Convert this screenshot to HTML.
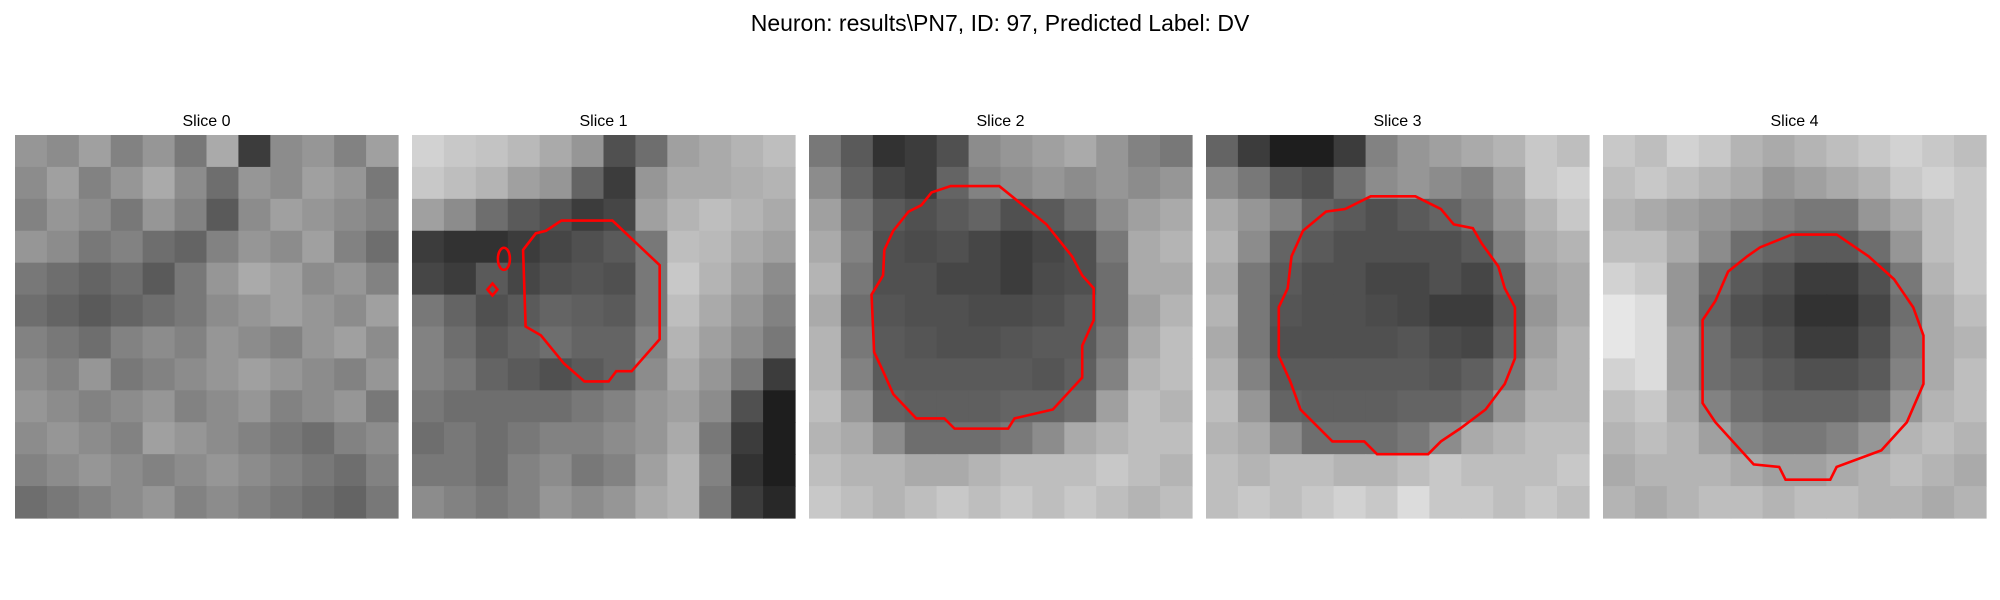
<!DOCTYPE html>
<html><head><meta charset="utf-8"><style>
html,body{margin:0;padding:0;background:#fff;}
svg{display:block;font-family:"Liberation Sans","DejaVu Sans",sans-serif;}
</style></head><body>
<svg id="fig" width="2000" height="600" viewBox="0 0 2000 600">
<text x="1000" y="31" text-anchor="middle" font-size="23" fill="#000">Neuron: results\PN7, ID: 97, Predicted Label: DV</text>
</svg>
<script>
const sliceLabels=["Slice 0","Slice 1","Slice 2","Slice 3","Slice 4"];
const grid0=[
[150,140,160,130,150,120,170,60,140,150,130,160],
[140,160,130,150,170,140,110,150,140,160,150,120],
[130,150,140,120,150,130,90,140,160,150,140,130],
[150,140,120,130,110,100,130,150,140,160,130,110],
[120,110,100,110,90,120,150,170,160,140,150,130],
[110,100,90,100,110,120,140,150,160,150,140,160],
[130,120,110,130,140,130,150,140,130,150,160,140],
[140,130,150,120,130,140,150,160,150,140,130,150],
[150,140,130,140,150,130,140,150,130,140,150,120],
[140,150,140,130,160,150,140,130,120,110,130,140],
[130,140,150,140,130,140,150,140,130,120,110,130],
[110,120,130,140,150,130,140,130,120,110,100,120]];
const grid1=[
[210,200,195,185,170,150,80,110,160,170,180,190],
[200,190,180,160,150,100,60,150,170,170,175,180],
[160,140,110,90,80,60,70,160,180,190,180,170],
[60,50,50,60,70,80,90,120,190,185,170,160],
[70,60,90,70,80,85,80,120,200,180,160,140],
[120,100,80,90,100,95,90,120,190,170,150,130],
[130,110,90,100,110,100,100,130,180,160,140,120],
[130,120,100,90,80,90,100,140,170,150,120,60],
[120,110,110,110,110,120,130,150,160,140,80,30],
[110,120,110,120,130,130,140,150,170,120,60,30],
[120,120,110,130,140,120,130,160,180,130,50,30],
[140,130,120,130,150,140,150,170,180,120,60,40]];
const grid2=[
[120,90,50,60,80,140,150,160,170,150,130,120],
[140,100,70,60,100,130,140,150,140,150,140,150],
[160,120,90,80,90,100,80,90,110,140,160,170],
[170,130,80,75,80,70,60,70,80,120,170,180],
[180,120,80,80,70,70,60,75,80,110,170,170],
[170,110,85,80,80,75,75,80,90,110,160,180],
[180,120,90,85,80,80,85,90,90,120,170,190],
[180,130,90,90,90,90,90,85,95,130,180,190],
[190,150,100,95,95,95,100,100,110,160,190,180],
[180,170,140,110,110,110,120,140,170,180,190,190],
[190,180,180,170,170,180,190,190,190,200,190,180],
[200,190,180,190,200,190,200,190,200,190,180,190]];
const grid3=[
[100,60,30,30,60,130,150,160,170,180,200,190],
[140,120,90,80,110,140,150,140,130,160,200,210],
[170,150,130,100,90,80,90,100,120,150,180,200],
[180,140,100,90,80,80,80,80,90,130,170,180],
[170,120,90,80,80,70,70,80,70,100,160,170],
[180,120,85,80,80,75,70,60,60,90,150,170],
[170,120,80,80,80,80,85,75,70,100,160,180],
[180,130,90,90,90,90,90,85,95,120,170,180],
[190,150,100,95,95,95,100,100,110,150,180,180],
[180,170,140,110,110,110,120,140,170,180,190,190],
[190,180,190,190,180,180,190,200,190,190,190,200],
[190,200,190,200,210,200,220,200,200,190,200,190]];
const grid4=[
[200,190,210,200,180,170,180,190,200,210,200,190],
[190,200,190,180,170,150,160,170,180,200,210,200],
[180,170,160,150,140,130,120,120,150,170,190,200],
[190,190,170,140,110,100,90,90,110,150,190,200],
[210,200,150,110,90,80,60,60,80,120,180,200],
[230,220,150,100,80,70,50,50,70,110,170,190],
[230,220,160,110,90,80,60,60,80,120,170,180],
[210,220,160,110,100,90,80,80,90,130,170,190],
[190,200,170,130,110,100,100,100,110,150,180,190],
[180,190,180,160,130,120,120,130,150,180,190,180],
[170,180,180,180,170,160,160,170,180,190,180,170],
[180,170,180,190,190,180,190,190,180,180,170,180]];
const grids=[grid0,grid1,grid2,grid3,grid4];
// contours in image units (0..300 per panel side)
const contour1=[[87,90],[97,77],[105,75],[117,67],[157,67],[194,102],[194,160],[172,185],[160,185],[154,193],[135,193],[119,179],[101,157],[89,150]];
const contour2=[[66,75],[78,60],[88,55],[96,45],[111,40],[149,40],[186,70],[206,95],[214,110],[223,120],[223,145],[214,165],[214,190],[191,215],[161,222],[156,230],[114,230],[106,222],[84,222],[66,203],[58,185],[51,170],[49,125],[58,110],[59,90]];
const contour3=[[76,75],[94,60],[109,58],[129,48],[164,48],[184,58],[194,70],[209,73],[216,85],[229,103],[234,120],[242,135],[242,175],[234,195],[219,215],[199,230],[184,240],[174,250],[134,250],[124,240],[99,240],[74,215],[66,193],[57,173],[57,135],[64,120],[67,95]];
const contour4=[[78,145],[88,130],[98,107],[113,95],[123,88],[148,78],[183,78],[208,95],[228,113],[243,135],[251,157],[251,195],[238,225],[218,247],[183,260],[178,270],[143,270],[138,260],[118,258],[88,225],[78,210]];
const contours=[null,contour1,contour2,contour3,contour4];
const ns="http://www.w3.org/2000/svg";
const svg=document.getElementById('fig');
const panelX=[15,412,809,1206,1603], panelY=135, panelS=383, units=300;
function sx(i,u){return panelX[i]+u*panelS/units;}
function sy(u){return panelY+u*panelS/units;}
for(let i=0;i<5;i++){
  const g=document.createElementNS(ns,'g');
  
  
  svg.appendChild(g);
  const grid=grids[i], n=grid.length, cs=panelS/n;
  for(let r=0;r<n;r++)for(let c=0;c<n;c++){
    const v=grid[r][c];
    const rc=document.createElementNS(ns,'rect');
    rc.setAttribute('x',panelX[i]+c*cs);rc.setAttribute('y',panelY+r*cs);
    rc.setAttribute('width',cs+0.6);rc.setAttribute('height',cs+0.6);
    rc.setAttribute('fill','rgb('+v+','+v+','+v+')');
    
    
    g.appendChild(rc);
  }
  const t=document.createElementNS(ns,'text');
  t.setAttribute('x',panelX[i]+panelS/2);t.setAttribute('y',126);
  t.setAttribute('text-anchor','middle');t.setAttribute('font-size','16');
  t.textContent=sliceLabels[i];
  
  
  svg.appendChild(t);
  if(contours[i]){
    const p=document.createElementNS(ns,'polygon');
    p.setAttribute('points',contours[i].map(q=>sx(i,q[0])+','+sy(q[1])).join(' '));
    p.setAttribute('fill','none');p.setAttribute('stroke','#ff0000');p.setAttribute('stroke-width','2.6');
    
    
    svg.appendChild(p);
  }
}
// small extra contours in slice 1
const e=document.createElementNS(ns,'ellipse');
e.setAttribute('cx',sx(1,72));e.setAttribute('cy',sy(97));e.setAttribute('rx',6);e.setAttribute('ry',11);
e.setAttribute('fill','none');e.setAttribute('stroke','#ff0000');e.setAttribute('stroke-width','2.6');


svg.appendChild(e);
const d=document.createElementNS(ns,'polygon');
const dx=sx(1,63),dy=sy(121);
d.setAttribute('points',[[dx,dy-6],[dx+5,dy],[dx,dy+6],[dx-5,dy]].map(q=>q.join(',')).join(' '));
d.setAttribute('fill','none');d.setAttribute('stroke','#ff0000');d.setAttribute('stroke-width','2.6');


svg.appendChild(d);
</script>
</body></html>
